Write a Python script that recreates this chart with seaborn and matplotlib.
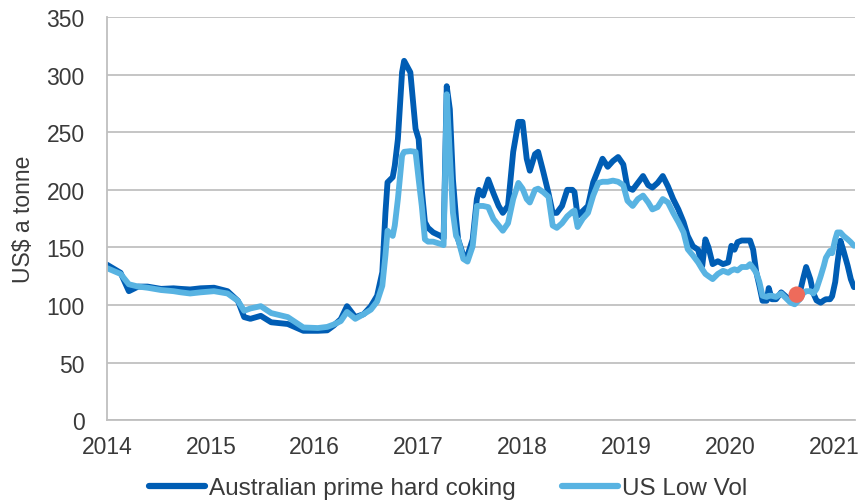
import numpy as np
import pandas as pd
import matplotlib
matplotlib.use("Agg")
import matplotlib.pyplot as plt
import seaborn as sns

# ---- data (decimal year, US$ a tonne) ----
dates = [2014.00, 2014.13, 2014.21, 2014.30, 2014.39, 2014.52, 2014.64, 2014.71, 2014.80, 2014.90,
         2015.03, 2015.16, 2015.26, 2015.32, 2015.38, 2015.48, 2015.58, 2015.74, 2015.89, 2016.03,
         2016.12, 2016.18, 2016.25, 2016.31, 2016.39, 2016.47, 2016.54, 2016.60, 2016.65, 2016.68,
         2016.70, 2016.75, 2016.77, 2016.80, 2016.84, 2016.86, 2016.92, 2016.97, 2017.00, 2017.03,
         2017.06, 2017.09, 2017.14, 2017.21, 2017.24, 2017.27, 2017.30, 2017.33, 2017.36, 2017.38,
         2017.43, 2017.47, 2017.52, 2017.56, 2017.58, 2017.62, 2017.67, 2017.72, 2017.77, 2017.81,
         2017.86, 2017.91, 2017.96, 2018.00, 2018.04, 2018.07, 2018.12, 2018.15, 2018.20, 2018.25,
         2018.29, 2018.33, 2018.38, 2018.43, 2018.48, 2018.50, 2018.53, 2018.58, 2018.63, 2018.68,
         2018.73, 2018.77, 2018.82, 2018.87, 2018.92, 2018.97, 2019.01, 2019.06, 2019.11, 2019.16,
         2019.21, 2019.25, 2019.30, 2019.35, 2019.40, 2019.45, 2019.50, 2019.55, 2019.59, 2019.64,
         2019.69, 2019.73, 2019.76, 2019.79, 2019.83, 2019.88, 2019.93, 2019.98, 2020.01, 2020.04,
         2020.07, 2020.11, 2020.16, 2020.19, 2020.22, 2020.25, 2020.28, 2020.31, 2020.35, 2020.37,
         2020.40, 2020.44, 2020.49, 2020.54, 2020.58, 2020.62, 2020.67, 2020.70, 2020.73, 2020.77,
         2020.80, 2020.83, 2020.87, 2020.90, 2020.92, 2020.96, 2020.98, 2021.01, 2021.03, 2021.06,
         2021.09, 2021.13, 2021.16, 2021.19]

australian = [135, 128, 112, 116, 116, 114, 114.5, 114, 113.5, 114.5,
              115, 112, 103.6, 89.5, 88, 90.6, 85, 83.5, 77.6, 77.6,
              78, 82, 87.7, 99, 89.5, 92, 99, 108, 128.5, 180,
              206.5, 211, 221, 244, 302, 312, 302, 253, 244, 200,
              172, 167, 163, 160, 158, 290, 270, 209, 175, 157,
              143, 143, 157, 192, 200, 195, 209, 197, 186, 180,
              186, 233, 259, 259, 227, 216.6, 231, 233, 215.5, 197,
              180, 180, 186, 200, 200, 198, 177.5, 181.6, 186, 206.5,
              218, 227, 220, 225, 228.5, 222, 202, 200, 206, 212,
              204, 202, 206, 212, 203, 192, 183, 172, 160, 151,
              148, 134, 157, 150, 135.5, 138, 135.5, 137, 151.4, 148,
              154.6, 156, 156, 156, 148, 128.5, 116.7, 103.7, 103.7, 114.7,
              105, 105, 111, 107, 104, 107, 111, 122.5, 133, 122.5,
              110, 104, 102, 104, 105, 105, 107.6, 120, 135.5, 155.8,
              147, 134, 122.5, 115.5]

us_low_vol = [132, 127, 118, 116, 115, 113, 112, 111, 110, 111,
              112, 110, 103.6, 95, 97, 99, 93, 89.5, 80.5, 80,
              81, 83, 86, 94, 88, 92, 96, 103, 116.7, 143,
              164.5, 160, 169, 192, 229.6, 233, 233.6, 233, 209, 186,
              157, 155, 155, 153, 152, 283, 230, 180, 160, 157,
              140, 137.7, 151, 186, 186, 186, 185, 174.6, 169, 164.5,
              171, 192, 206, 201, 192, 189, 200, 201, 198, 194,
              169, 167, 171, 177, 181, 182, 167.7, 175, 180, 195,
              206, 207, 207, 208, 207, 204, 190.5, 186, 192, 195,
              189, 183, 185, 192, 189, 180, 172, 163, 148.5, 143,
              137, 131, 127, 125, 122.5, 127, 129.7, 128, 130, 131,
              130, 133, 133, 135.5, 132, 128, 120, 108, 107, 108,
              108, 107, 110, 105.5, 102, 100.6, 105, 110, 112, 112,
              110, 114, 125, 134, 141, 147, 145, 157, 163, 163,
              160, 157, 154.5, 151.4]

series_names = ["Australian prime hard coking", "US Low Vol"]
marker_date = [2020.64]
marker_value = [109]
year_ticks = [2014, 2015, 2016, 2017, 2018, 2019, 2020, 2021]
y_ticks = [0, 50, 100, 150, 200, 250, 300, 350]

# ---- build long-form table ----
df = pd.DataFrame({
    "date": dates * 2,
    "value": australian + us_low_vol,
    "series": [series_names[0]] * len(dates) + [series_names[1]] * len(dates),
})

sns.set_style("white")
plt.rcParams["font.family"] = ["Liberation Sans", "DejaVu Sans"]

TXT = "#3A3A3A"
fig = plt.figure(figsize=(8.59, 5.02), dpi=100)
ax = fig.add_axes([0.1246, 0.161, 0.9953 - 0.1246, 0.964 - 0.161])

palette = {series_names[0]: "#005DB4", series_names[1]: "#58B3E2"}
sns.lineplot(data=df, x="date", y="value", hue="series", hue_order=series_names,
             palette=palette, linewidth=4.2, ax=ax, legend=True, sort=False)

sns.scatterplot(x=marker_date, y=marker_value, color="#EE6B5B", s=140,
                edgecolor="none", ax=ax, zorder=5, legend=False)

ax.set_xlim(2014, 2021.2)
ax.set_ylim(0, 350)
ax.set_xticks(year_ticks)
ax.set_xticklabels([str(y) for y in year_ticks])
ax.set_yticks(y_ticks)
ax.yaxis.grid(True, color="#C0C0C0", linewidth=1.3)
ax.set_axisbelow(True)

for s in ["top", "right"]:
    ax.spines[s].set_visible(False)
for s in ["left", "bottom"]:
    ax.spines[s].set_color("#BFBFBF")
    ax.spines[s].set_linewidth(1.3)

ax.tick_params(axis="both", labelsize=16.5, labelcolor=TXT, length=6,
               width=1.3, direction="out", color="#BFBFBF")
ax.tick_params(axis="y", pad=10)
ax.tick_params(axis="x", pad=5)
ax.set_xlabel("")
ax.set_ylabel("US$ a tonne", fontsize=16.5, color=TXT, labelpad=8)

leg = ax.legend(loc="center", bbox_to_anchor=(0.4566, (421 - 489) / 403.0), ncol=2, frameon=False,
                fontsize=17.5, handlelength=2.3, handletextpad=0.17, columnspacing=1.9)
for line in leg.get_lines():
    line.set_linewidth(4.5)
    line.set_solid_capstyle("round")
for t in leg.get_texts():
    t.set_color(TXT)

fig.savefig("out.png", dpi=100)
